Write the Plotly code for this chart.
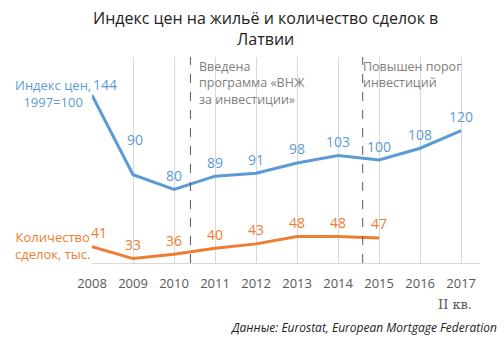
import plotly.graph_objects as go

years = ["2008", "2009", "2010", "2011", "2012", "2013", "2014", "2015", "2016", "2017"]
price_index = [144, 90, 80, 89, 91, 98, 103, 100, 108, 120]
deals = [41, 33, 36, 40, 43, 48, 48, 47]

BLUE = "#5b9bd5"
ORANGE = "#ed7d31"
GRID = "#d9d9d9"
FONT = "Open Sans"

xi = list(range(len(years)))

fig = go.Figure()
fig.add_trace(go.Scatter(x=xi, y=price_index, mode="lines",
                         line=dict(color=BLUE, width=3), hoverinfo="skip"))
fig.add_trace(go.Scatter(x=xi[:len(deals)], y=deals, mode="lines",
                         line=dict(color=ORANGE, width=3), hoverinfo="skip"))

ann = []
for i, v in enumerate(price_index):
    xs, ys = 0, 14
    if i == 0:
        xs, ys = 13, 11
    if i == 1:
        xs, ys = 2, 35
    ann.append(dict(x=i, y=v, xref="x", yref="y", text=str(v), showarrow=False,
                    xshift=xs, yshift=ys, font=dict(color=BLUE, size=14, family=FONT)))
for i, v in enumerate(deals):
    xs = 7 if i == 0 else 0
    ann.append(dict(x=i, y=v, xref="x", yref="y", text=str(v), showarrow=False,
                    xshift=xs, yshift=14, font=dict(color=ORANGE, size=14, family=FONT)))

# series labels
ann.append(dict(x=0, y=145.5, xref="x", yref="y", text="Индекс цен,<br>1997=100",
                showarrow=False, xanchor="right", align="center", xshift=1,
                font=dict(color=BLUE, size=13, family=FONT)))
ann.append(dict(x=0, y=41.6, xref="x", yref="y", text="Количество<br>сделок, тыс.",
                showarrow=False, xanchor="right", align="center", xshift=0,
                font=dict(color=ORANGE, size=13, family=FONT)))

# event notes
ann.append(dict(x=2.55, y=170, xref="x", yref="y", text="Введена<br>программа «ВНЖ<br>за инвестиции»",
                showarrow=False, xanchor="left", yanchor="top", align="left", yshift=1,
                font=dict(color="#808080", size=12.5, family=FONT)))
ann.append(dict(x=6.55, y=170, xref="x", yref="y", text="Повышен порог<br>инвестиций",
                showarrow=False, xanchor="left", yanchor="top", align="left", yshift=1,
                font=dict(color="#808080", size=12.5, family=FONT)))

# title
ann.append(dict(x=0.446, y=1.136, xref="paper", yref="paper",
                text="Индекс цен на жильё и количество сделок в<br>Латвии",
                showarrow=False, xanchor="center", yanchor="middle", align="center",
                font=dict(size=16, color="#222222", family=FONT)))

# sub-tick note
ann.append(dict(x=9, y=0, xref="x", yref="paper", text="II кв.", showarrow=False,
                xanchor="right", yanchor="top", xshift=13, yshift=-32,
                font=dict(color="#595959", size=13, family="DejaVu Serif, serif")))

# source
ann.append(dict(x=1.0, y=0, xref="paper", yref="paper", text="<i>Данные: Eurostat, European Mortgage Federation</i>",
                showarrow=False, xanchor="right", yanchor="middle", xshift=19, yshift=-64,
                font=dict(color="#222222", size=12, family=FONT)))

shapes = []
for xv in (2.4, 6.6):
    shapes.append(dict(type="line", xref="x", yref="paper", x0=xv, x1=xv, y0=0, y1=1,
                       line=dict(color="#595959", width=1, dash="dash")))

fig.update_layout(
    width=504, height=341,
    margin=dict(l=92, r=24, t=57, b=78),
    paper_bgcolor="white", plot_bgcolor="white",
    showlegend=False,
    annotations=ann, shapes=shapes,
    xaxis=dict(range=[0, 9.46], tickvals=xi, ticktext=years, showgrid=True,
               gridcolor=GRID, gridwidth=1, zeroline=False, showline=True,
               linecolor=GRID, linewidth=1, ticks="", ticklabelstandoff=8,
               tickfont=dict(color="#595959", size=13, family=FONT), fixedrange=True),
    yaxis=dict(range=[30, 170], visible=False, showgrid=False, zeroline=False, fixedrange=True),
)

fig.write_html("out.html")
